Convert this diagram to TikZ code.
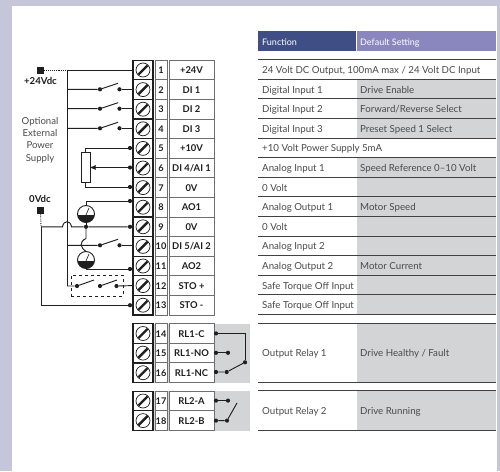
\documentclass[tikz,border=0pt]{standalone}
\usepackage{fontspec}
\setmainfont{Lato}
\usetikzlibrary{arrows}
\definecolor{frame}{HTML}{C6C6DA}
\definecolor{wire}{HTML}{1F1F1F}
\definecolor{edge}{HTML}{6E6E70}
\definecolor{greyfill}{HTML}{D3D4D6}
\definecolor{txt}{HTML}{4A4A4C}
\definecolor{headA}{HTML}{404E86}
\definecolor{headB}{HTML}{8A87BE}
\tikzset{
 screw/.style={draw=wire, line width=1.2, minimum width=20, minimum height=19.6, inner sep=0, outer sep=0},
 numbox/.style={draw=edge, line width=1, minimum width=12, minimum height=19.6, inner sep=0, outer sep=0, text height=7, text depth=0, font=\fontsize{9.2}{10}\selectfont\bfseries, text=wire},
 labbox/.style={draw=edge, line width=1, minimum width=45, minimum height=19.6, inner sep=0, outer sep=0, text height=7, text depth=0, font=\fontsize{9.4}{10}\selectfont\bfseries, text=wire},
 dot/.style={circle, fill=wire, inner sep=0, minimum size=4.2},
 tcell/.style={anchor=west, inner sep=0, text height=7, text depth=0, font=\fontsize{9.7}{11}\selectfont, text=txt},
 headcell/.style={anchor=west, inner sep=0, text height=7, text depth=0, font=\fontsize{9}{11}\selectfont, text=white},
 side/.style={align=center, inner sep=0, font=\fontsize{9.6}{12.2}\selectfont, text=txt},
 tag/.style={inner sep=0, font=\fontsize{9.6}{10}\selectfont\bfseries, text=wire},
 wiring/.style={draw=wire, line width=.95},
 meter/.style={circle, draw=wire, line width=.9, minimum size=17, inner sep=0, outer sep=0}
}
\begin{document}
\begin{tikzpicture}[x=1pt, y=-1pt]
\useasboundingbox (0,0) rectangle (500,471);
\fill[frame] (0,0) rectangle (500,471);
\fill[white] (12,6) rectangle (497,471);
% table shading
\fill[greyfill] (357,79.5) rectangle (496,138.3);
\fill[greyfill] (357,158) rectangle (496,315);
\fill[greyfill] (357,323) rectangle (496,382);
\fill[greyfill] (357,390.5) rectangle (496,430.5);
\fill[greyfill] (133,324) rectangle (250,382.5);
\fill[greyfill] (133,391) rectangle (250,431);
\fill[headA] (258,31) rectangle (356,51);
\fill[headB] (357,31) rectangle (496,51);
\node[headcell] (hfunc) at (262,42) {Function};
\node[headcell] (hset) at (360,42) {Default Setting};
% table rules
\foreach \k in {0,...,13} {
 \draw[wire!85!white, line width=1] (258,{59.6+19.6*\k}) --++(238,0);
}
\foreach \y in {323,382,390.5,430.5} {
 \draw[wire!85!white, line width=1] (258,\y) --++(238,0);
}
% table text
\foreach \n/\t/\d in {1/{24 Volt DC Output, 100mA max / 24 Volt DC Input}/{},
  2/Digital Input 1/Drive Enable, 3/Digital Input 2/{Forward/Reverse Select},
  4/Digital Input 3/Preset Speed 1 Select, 5/+10 Volt Power Supply 5mA/{},
  6/Analog Input 1/{Speed Reference 0--10 Volt}, 7/0 Volt/{},
  8/Analog Output 1/Motor Speed, 9/0 Volt/{}, 10/Analog Input 2/{},
  11/Analog Output 2/Motor Current, 12/Safe Torque Off Input/{},
  13/Safe Torque Off Input/{}} {
 \node[tcell] (f\n) at (262,{70+19.6*(\n-1)}) {\t};
 \node[tcell] (d\n) at (360,{70+19.6*(\n-1)}) {\d};
}
\node[tcell] (f14) at (262,353) {Output Relay 1};
\node[tcell] (d14) at (360,353) {Drive Healthy / Fault};
\node[tcell] (f17) at (262,411) {Output Relay 2};
\node[tcell] (d17) at (360,411) {Drive Running};
% terminals
\foreach \n/\t/\y in {1/+24V/70, 2/DI 1/89.6, 3/DI 2/109.2, 4/DI 3/128.8, 5/+10V/148.4,
  6/{DI 4/AI 1}/168, 7/0V/187.6, 8/AO1/207.2, 9/0V/226.8, 10/{DI 5/AI 2}/246.4,
  11/AO2/266, 12/STO +/285.6, 13/STO -/305.2, 14/RL1-C/333.5, 15/RL1-NO/353.1,
  16/RL1-NC/372.7, 17/RL2-A/401, 18/RL2-B/420.6} {
 \node[numbox, fill=white] (n\n) at (161,\y) {\n};
 \node[labbox, fill=white] (l\n) at (191.5,\y) {\t};
 \node[screw, fill=white] (s\n) at (143,\y) {};
 \draw[wire, line width=.7] (s\n.center) circle (7);
 \draw[wire, line width=2.4] (s\n.center) +(-4.6,4.6) -- +(4.6,-4.6);
}
% supply terminals
\node[fill=wire, minimum size=7, inner sep=0] (plus) at (40.5,70) {};
\node[tag] (plustag) at (40.5,81) {+24Vdc};
\node[fill=wire, minimum size=7, inner sep=0] (zero) at (40.5,210) {};
\node[tag] (zerotag) at (40,198.5) {0Vdc};
\node[side] (opt) at (40,140) {Optional\\External\\Power\\Supply};
\coordinate (topbus) at (67,70);
\coordinate (lowbus) at (67,286);
\coordinate (zerobus) at (41,226.8);
\coordinate (zerolow) at (41,305.2);
\draw[wire, densely dotted, line width=.9] (plus) -- (topbus);
\draw[wire, densely dotted, line width=.9] (zero) -- (zerobus);
\draw[wiring] (topbus) -- (s1.west);
\draw[wiring] (topbus) -- (lowbus);
% digital input switches
\foreach \n/\y in {2/89.3, 3/108.7, 4/128.3, 10/245.3} {
 \node[dot] (a\n) at (100,\y) {};
 \node[dot] (b\n) at (119.5,\y) {};
 \coordinate (t\n) at (118,{\y-6});
 \coordinate (w\n) at (67,\y);
 \draw[wiring] (w\n) -- (a\n) -- (t\n);
 \draw[wiring] (b\n) -- (133,\y);
}
% pot
\node[draw=wire, line width=.9, fill=white, minimum width=9.6, minimum height=30.6, inner sep=0, outer sep=0] (pot) at (85.8,167.4) {};
\node[dot] (p5) at (130,148) {};
\node[dot] (p6) at (130,167.5) {};
\node[dot] (p7) at (130,187) {};
\draw[wiring] (pot.north) |- (p5);
\draw[wiring] (pot.south) |- (p7);
\draw[wiring, ->, >=stealth'] (p6) -- (pot.east |- p6);
% meters
\node[meter] (m1) at (86,214) {};
\node[meter] (m2) at (86,260) {};
\foreach \m in {m1,m2} {
 \begin{scope}
 \clip (\m.center) +(-10,1.8) rectangle +(10,10);
 \fill[wire] (\m.center) circle (8.5);
 \end{scope}
 \draw[wire, line width=.6] (\m.center) +(0,1) -- +(3,-6);
}
\node[dot] (o8) at (130,201) {};
\node[dot] (o9) at (130,226.8) {};
\node[dot] (j9) at (86,226.8) {};
\node[dot] (o11) at (130,269) {};
\node[dot] (o13) at (130,305.2) {};
\draw[wiring] (m1.north) |- (o8);
\draw[wiring] (m1.south) -- (j9);
\draw[wiring] (m2.south) |- (o11);
\draw[wiring] (j9) -- (86,238.5) .. controls (79,242) and (80,247) .. (86,251.5);
\draw[wiring] (zerobus) -- (62.5,226.8) .. controls (63.5,220) and (70.5,220) .. (71.5,226.8) -- (j9) -- (o9);
\draw[wiring] (zerobus) -- (zerolow) -- (o13);
% safe torque off
\node[draw=wire, dashed, line width=.8, minimum width=52, minimum height=21, inner sep=0] (sto) at (97,285.5) {};
\node[dot] (k1) at (77,286) {};
\node[dot] (k2) at (100,286) {};
\node[dot] (k3) at (116.5,286) {};
\coordinate (u1) at (94,280);
\coordinate (u2) at (117,280);
\draw[wiring] (lowbus) -- (k1) -- (u1);
\draw[wiring] (k2) -- (u2);
\draw[wiring] (k3) -- (s12.west);
% relays
\node[dot] (r14) at (216,333.4) {};
\node[dot] (r15) at (216,352.8) {};
\node[dot] (q15) at (228,352.8) {};
\node[dot] (r16) at (216,372) {};
\node[dot] (q16) at (226.7,372) {};
\node[dot] (pv) at (245,362.3) {};
\draw[wiring] (r14) -| (pv);
\draw[wiring] (r15) -- (q15);
\draw[wiring] (r16) -- (q16) -- (pv);
\node[dot] (r17) at (216,400.6) {};
\node[dot] (q17) at (228,400.6) {};
\node[dot] (r18) at (216,420.6) {};
\node[dot] (q18) at (227,420.6) {};
\coordinate (v18) at (237,403);
\draw[wiring] (r17) -- (q17);
\draw[wiring] (r18) -- (q18) -- (v18);
\end{tikzpicture}
\end{document}
